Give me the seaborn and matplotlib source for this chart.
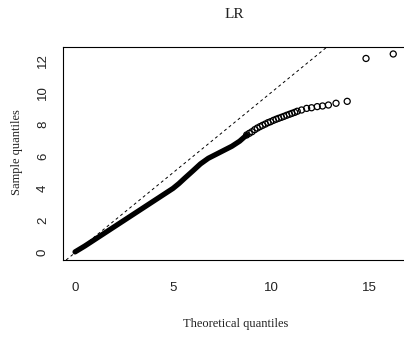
import matplotlib
matplotlib.use("Agg")
import matplotlib.pyplot as plt
import seaborn as sns
import pandas as pd

# dense part of the Q-Q cloud
band_x = [0.0, 0.5, 1.0, 1.5, 2.0, 2.5, 3.0, 3.5, 4.0, 4.5, 5.0, 5.3, 5.6, 6.0,
          6.4, 6.8, 7.2, 7.6, 8.0, 8.4, 8.76]
band_y = [0.05, 0.42, 0.82, 1.22, 1.62, 2.02, 2.42, 2.82, 3.22, 3.62, 4.02, 4.32,
          4.66, 5.1, 5.55, 5.9, 6.15, 6.4, 6.65, 6.97, 7.36]

# individual points in the upper tail
tail_x = [8.76, 8.89, 9.03, 9.17, 9.30, 9.44, 9.57, 9.71, 9.85, 9.98, 10.12, 10.26,
          10.39, 10.53, 10.66, 10.80, 10.94, 11.07, 11.21, 11.34, 11.56, 11.82,
          12.07, 12.36, 12.63, 12.93, 13.32, 13.89, 14.85, 16.24]
tail_y = [7.36, 7.46, 7.56, 7.69, 7.79, 7.88, 7.96, 8.04, 8.13, 8.19, 8.27, 8.34,
          8.40, 8.46, 8.52, 8.59, 8.65, 8.71, 8.77, 8.84, 8.92, 9.02,
          9.06, 9.13, 9.17, 9.23, 9.34, 9.46, 12.14, 12.42]

ref_intercept = 0.0
ref_slope = 1.0

x_ticks = [0, 5, 10, 15]
y_ticks = [0, 2, 4, 6, 8, 10, 12]

title = "LR"
xlabel = "Theoretical quantiles"
ylabel = "Sample quantiles"

sns.set_style("white")
plt.rcParams["font.family"] = ["Liberation Sans", "DejaVu Sans"]

W, H = 404, 338
fig = plt.figure(figsize=(W / 100, H / 100), dpi=100)
ax = fig.add_axes([63.3 / W, 1 - 260 / H, (405 - 63.3) / W, (260 - 46.7) / H])

band = pd.DataFrame({"x": band_x, "y": band_y})
tail = pd.DataFrame({"x": tail_x, "y": tail_y})

sns.lineplot(data=band, x="x", y="y", ax=ax, color="black", linewidth=3.8,
             sort=False, estimator=None, solid_capstyle="round",
             solid_joinstyle="round")
sns.scatterplot(data=tail, x="x", y="y", ax=ax, marker="o", s=19,
                facecolor="none", edgecolor="black", linewidth=0.9)
ax.axline((0, ref_intercept), slope=ref_slope, color="black", lw=0.7,
          linestyle=(0, (3, 3)))

ax.set_xlim(-0.6, 16.84)
ax.set_ylim(-0.456, 12.875)
ax.set_xticks(x_ticks)
ax.set_yticks(y_ticks)
ax.set_xticklabels([str(t) for t in x_ticks])
ax.set_yticklabels([str(t) for t in y_ticks], rotation=90, va="center")
ax.tick_params(axis="both", direction="out", length=5.8, width=0.7,
               color="black", labelsize=9.5, labelcolor="#222222")
ax.tick_params(axis="x", pad=10)
ax.tick_params(axis="y", pad=4.5)
ax.set_xlabel("")
ax.set_ylabel("")
for s in ax.spines.values():
    s.set_color("black")
    s.set_linewidth(0.8)
ax.spines["right"].set_visible(False)

fig.text(234 / W, 1 - 15 / H, title, ha="center", va="center",
         family="Liberation Serif", fontsize=11, color="#222222")
fig.text(236 / W, 1 - 324 / H, xlabel, ha="center", va="center",
         family="Liberation Serif", fontsize=9, color="#222222")
fig.text(17 / W, 1 - 152 / H, ylabel, ha="center", va="center", rotation=90,
         family="Liberation Serif", fontsize=9, color="#222222")

fig.savefig("out.png", dpi=100)
